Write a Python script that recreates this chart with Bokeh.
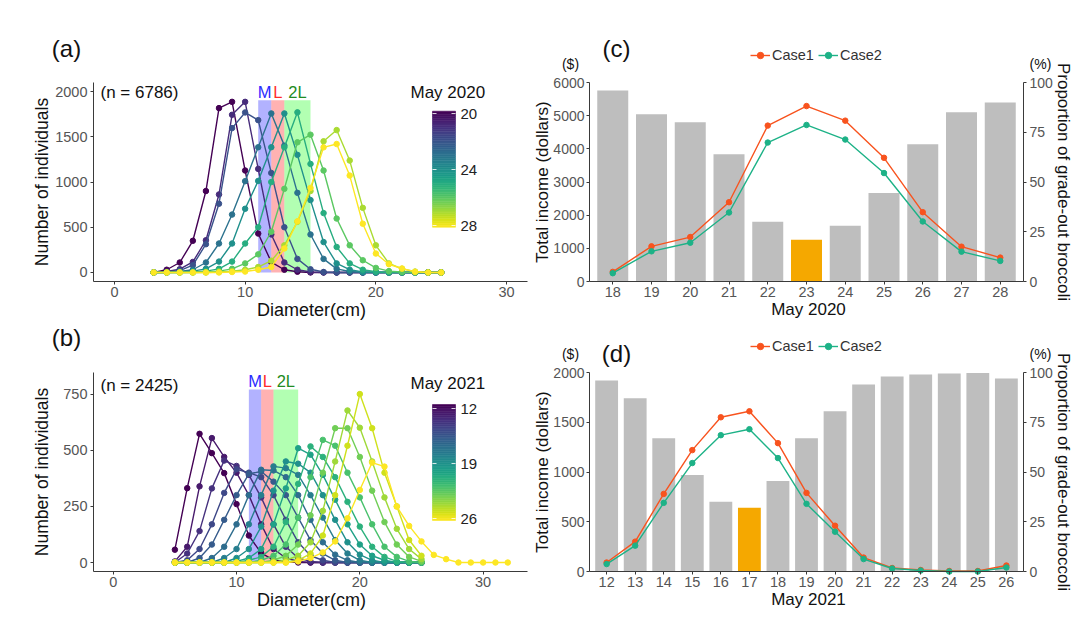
import math
from bokeh.plotting import figure
from bokeh.models import Range1d, LinearAxis, FixedTicker, Label, Legend, LegendItem
from bokeh.embed import file_html
from bokeh.resources import INLINE
from bokeh.palettes import Viridis256

FONT = "Liberation Sans"
W, H = 1080, 635

# ---------------- data: panel (a), May 2020 ----------------
diam_a = list(range(3, 26))
days_a = [20, 21, 22, 23, 24, 25, 26, 27, 28]
cnt_a20 = [0, 30, 110, 350, 900, 1817, 1886, 1127, 430, 115, 30, 8, 0, 0, 0, 0, 0, 0, 0, 0, 0, 0, 0]
cnt_a21 = [0, 10, 36, 116, 356, 862, 1743, 1886, 1145, 420, 110, 30, 5, 0, 0, 0, 0, 0, 0, 0, 0, 0, 0]
cnt_a22 = [0, 5, 20, 80, 312, 760, 1596, 1769, 1684, 1100, 500, 150, 35, 5, 0, 0, 0, 0, 0, 0, 0, 0, 0]
cnt_a23 = [0, 0, 10, 30, 110, 320, 640, 1009, 1384, 1758, 1402, 880, 420, 150, 40, 10, 0, 0, 0, 0, 0, 0, 0]
cnt_a24 = [0, 0, 5, 15, 40, 120, 320, 704, 1012, 1384, 1758, 1300, 800, 336, 100, 30, 5, 0, 0, 0, 0, 0, 0]
cnt_a25 = [0, 0, 0, 5, 15, 40, 120, 320, 500, 1000, 1384, 1770, 1200, 656, 282, 100, 30, 8, 0, 0, 0, 0, 0]
cnt_a26 = [0, 0, 0, 0, 5, 15, 40, 100, 200, 450, 924, 1439, 1523, 1127, 596, 300, 135, 50, 15, 5, 0, 0, 0]
cnt_a27 = [0, 0, 0, 0, 0, 5, 15, 30, 60, 130, 300, 560, 900, 1450, 1574, 1237, 714, 300, 100, 40, 10, 0, 0]
cnt_a28 = [0, 0, 0, 0, 0, 0, 5, 10, 30, 60, 265, 565, 935, 1383, 1420, 1071, 539, 209, 91, 44, 7, 0, 0]
counts_a = [cnt_a20, cnt_a21, cnt_a22, cnt_a23, cnt_a24, cnt_a25, cnt_a26, cnt_a27, cnt_a28]
n_a = 6786
cbar_ticks_a = [20, 24, 28]

# ---------------- data: panel (b), May 2021 ----------------
diam_b = list(range(5, 26))
diam_b_last = list(range(5, 33))
days_b = list(range(12, 27))
cnt_b12 = [57, 331, 573, 487, 398, 260, 120, 42, 12, 3, 0, 0, 0, 0, 0, 0, 0, 0, 0, 0, 0]
cnt_b13 = [5, 70, 339, 554, 470, 400, 300, 170, 60, 20, 5, 0, 0, 0, 0, 0, 0, 0, 0, 0, 0]
cnt_b14 = [0, 40, 140, 330, 454, 430, 390, 290, 170, 70, 20, 5, 0, 0, 0, 0, 0, 0, 0, 0, 0]
cnt_b15 = [0, 10, 60, 170, 310, 415, 400, 380, 300, 190, 90, 30, 10, 0, 0, 0, 0, 0, 0, 0, 0]
cnt_b16 = [0, 0, 20, 80, 190, 300, 395, 405, 360, 300, 200, 100, 40, 10, 0, 0, 0, 0, 0, 0, 0]
cnt_b17 = [0, 0, 0, 20, 70, 170, 300, 413, 410, 380, 300, 190, 90, 35, 10, 0, 0, 0, 0, 0, 0]
cnt_b18 = [0, 0, 0, 0, 20, 60, 170, 300, 428, 420, 390, 300, 200, 100, 40, 10, 0, 0, 0, 0, 0]
cnt_b19 = [0, 0, 0, 0, 0, 20, 60, 160, 320, 450, 440, 400, 300, 190, 90, 35, 10, 0, 0, 0, 0]
cnt_b20 = [0, 0, 0, 0, 0, 5, 20, 60, 170, 330, 509, 480, 390, 280, 170, 80, 30, 10, 0, 0, 0]
cnt_b21 = [0, 0, 0, 0, 0, 0, 10, 25, 70, 180, 350, 517, 470, 380, 270, 160, 70, 25, 5, 0, 0]
cnt_b22 = [0, 0, 0, 0, 0, 0, 0, 10, 30, 80, 200, 380, 546, 520, 400, 290, 170, 70, 25, 5, 0]
cnt_b23 = [0, 0, 0, 0, 0, 0, 0, 0, 10, 30, 80, 210, 400, 598, 598, 470, 320, 180, 80, 25, 5]
cnt_b24 = [0, 0, 0, 0, 0, 0, 0, 0, 0, 10, 30, 90, 230, 450, 677, 600, 450, 290, 150, 60, 15]
cnt_b25 = [0, 0, 0, 0, 0, 0, 0, 0, 0, 0, 10, 40, 120, 300, 520, 750, 598, 400, 250, 100, 30]
cnt_b26 = [0, 0, 0, 0, 0, 0, 0, 0, 0, 0, 5, 20, 45, 94, 197, 323, 445, 427, 249, 163, 94, 34, 15, 0, 0, 0, 0, 0]
counts_b = [cnt_b12, cnt_b13, cnt_b14, cnt_b15, cnt_b16, cnt_b17, cnt_b18, cnt_b19,
            cnt_b20, cnt_b21, cnt_b22, cnt_b23, cnt_b24, cnt_b25, cnt_b26]
n_b = 2425
cbar_ticks_b = [12, 19, 26]

# size classes
class_names = ["M", "L", "2L"]
class_lo = [11, 12, 13]
class_hi = [12, 13, 15]
band_top_a = 1905
band_top_b = 770
label_y_a = 2000
label_y_b = 806

# ---------------- data: panel (c), May 2020 ----------------
days_c = [18, 19, 20, 21, 22, 23, 24, 25, 26, 27, 28]
grade_c = [96, 84, 80, 64, 30, 21, 28, 44.5, 69, 85, 90]
case1_c = [290, 1060, 1340, 2390, 4700, 5290, 4850, 3730, 2090, 1050, 720]
case2_c = [250, 910, 1170, 2080, 4190, 4720, 4280, 3270, 1810, 900, 620]
best_c = 23

# ---------------- data: panel (d), May 2021 ----------------
days_d = [12, 13, 14, 15, 16, 17, 18, 19, 20, 21, 22, 23, 24, 25, 26]
grade_d = [96, 87, 67, 48.5, 35, 32, 45.5, 67, 80.5, 94, 98, 99, 99.5, 99.7, 97]
case1_d = [90, 300, 780, 1220, 1550, 1610, 1290, 790, 460, 140, 35, 15, 5, 5, 60]
case2_d = [75, 260, 690, 1090, 1370, 1430, 1140, 680, 400, 125, 30, 10, 0, 0, 40]
best_d = 17

# ---------------- styling ----------------
AX = "#3a3a3a"
TICKLAB = "#555555"
TXT = "#111111"
C1 = "#F8531E"
C2 = "#1DB287"
GRAY = "#BEBEBE"
ORANGE = "#F5A800"
BAND_FILL = ["#0000ff", "#ff0000", "#00ff00"]
BAND_TEXT = ["#2b2bff", "#ff2b2b", "#228B22"]

p = figure(width=W, height=H, x_range=Range1d(0, W), y_range=Range1d(H, 0),
           output_backend="svg", toolbar_location=None,
           x_axis_location=None, y_axis_location=None, min_border=0)
p.min_border_left = p.min_border_right = p.min_border_top = p.min_border_bottom = 0
p.outline_line_color = None
p.background_fill_color = "white"
p.border_fill_color = "white"
for g in p.grid:
    g.visible = False

xr_extra, yr_extra = {}, {}


def panel_ranges(name, frame, xr, yr):
    L, R, T, B = frame
    kx = (xr[1] - xr[0]) / (R - L)
    ky = (yr[1] - yr[0]) / (B - T)
    xr_extra[name + "x"] = Range1d(xr[0] - L * kx, xr[0] + (W - L) * kx)
    yr_extra[name + "y"] = Range1d(yr[0] + (B - H) * ky, yr[0] + B * ky)


def style_axis(ax, lab_standoff, lab_size):
    ax.axis_line_color = AX
    ax.axis_line_width = 1
    ax.major_tick_line_color = AX
    ax.major_tick_out = 3
    ax.major_tick_in = 0
    ax.minor_tick_line_color = None
    ax.major_label_text_font = FONT
    ax.major_label_text_font_size = lab_size
    ax.major_label_text_color = TICKLAB
    ax.major_label_standoff = lab_standoff


def add_axis(side, name, yname, loc, bounds, ticks, standoff=2, lab_size="14.5px"):
    ax = LinearAxis(x_range_name=name + "x", y_range_name=yname, fixed_location=loc,
                    bounds=bounds, ticker=FixedTicker(ticks=ticks))
    style_axis(ax, standoff, lab_size)
    p.add_layout(ax, side)


def text(x, y, s, size, color=TXT, align="center", angle=0.0, xname="default", yname="default"):
    p.add_layout(Label(x=x, y=y, text=s, text_font=FONT, text_font_size=size, text_color=color,
                       text_align=align, text_baseline="middle", angle=angle,
                       x_range_name=xname, y_range_name=yname))


def vcolor(v, lo, hi):
    return Viridis256[int(round((v - lo) / (hi - lo) * 255))]


def dist_panel(name, frame, xr, yr, yticks, diam, diam_last, days, counts, n_total,
               band_top, label_y, cbar_ticks, cbar_title, cbar_geom, tag, tag_py, n_py):
    panel_ranges(name, frame, xr, yr)
    L, R, T, B = frame
    xn, yn = name + "x", name + "y"
    add_axis("below", name, yn, yr[0], xr, [0, 10, 20, 30], 2)
    add_axis("left", name, yn, xr[0], yr, yticks, 3)
    p.quad(left=class_lo, right=class_hi, bottom=0, top=band_top,
           fill_color=BAND_FILL, fill_alpha=0.3, line_color=None,
           x_range_name=xn, y_range_name=yn)
    lo, hi = days[0], days[-1]
    for i, (d, vals) in enumerate(zip(days, counts)):
        xs = diam_last if i == len(days) - 1 else diam
        col = vcolor(d, lo, hi)
        p.line(xs, vals, line_color=col, line_width=1.4, x_range_name=xn, y_range_name=yn)
        p.scatter(xs, vals, size=5.5, fill_color=col, line_color=col, x_range_name=xn, y_range_name=yn)
    for nm, a, b, tc in zip(class_names, class_lo, class_hi, BAND_TEXT):
        text((a + b) / 2, label_y, nm, "16.5px", color=tc, xname=xn, yname=yn)
    text(100, n_py, "(n = %d)" % n_total, "17px", align="left")
    # colour bar (legend key)
    px0, px1, pyt, pyb, ly0, ly1, title_py = cbar_geom
    nseg = 64
    tops, bots, cols = [], [], []
    for k in range(nseg):
        tops.append(pyt + (pyb - pyt) * k / nseg)
        bots.append(pyt + (pyb - pyt) * (k + 1) / nseg)
        cols.append(Viridis256[int((k + 0.5) / nseg * 255)])
    p.quad(left=px0, right=px1, top=tops, bottom=bots, fill_color=cols, line_color=cols, line_width=0.6)
    for v in cbar_ticks:
        py = ly0 + (v - cbar_ticks[0]) / (cbar_ticks[-1] - cbar_ticks[0]) * (ly1 - ly0)
        text(px1 + 5, py, str(v), "15px", color="#222222", align="left")
        p.segment(x0=[px0, px1 - 4], x1=[px0 + 4, px1], y0=[py, py], y1=[py, py],
                  line_color="white", line_width=1, line_alpha=0.8)
    text(410, title_py, cbar_title, "17px", align="left")
    # titles
    text(66, tag_py, tag, "24px")
    text(41.5, (T + B) / 2, "Number of individuals", "17.5px", angle=math.pi / 2)
    text((L + R) / 2 + 1, B + 28, "Diameter(cm)", "18px")


def income_panel(name, frame, xr, ymax, yticks, days, grade, case1, case2, best,
                 xtitle, tag, tag_py, unit_py, leg_py):
    panel_ranges(name, frame, xr, (0, ymax))
    panel_ranges(name + "p", frame, xr, (0, 100))
    L, R, T, B = frame
    xn, yn, pn = name + "x", name + "y", name + "py"
    cols = [ORANGE if d == best else GRAY for d in days]
    p.vbar(x=days, top=grade, width=0.8, bottom=0, fill_color=cols, line_color=None,
           x_range_name=xn, y_range_name=pn)
    l1 = p.line(days, case1, line_color=C1, line_width=1.4, x_range_name=xn, y_range_name=yn)
    s1 = p.scatter(days, case1, size=5.5, fill_color=C1, line_color=C1, x_range_name=xn, y_range_name=yn)
    l2 = p.line(days, case2, line_color=C2, line_width=1.4, x_range_name=xn, y_range_name=yn)
    s2 = p.scatter(days, case2, size=5.5, fill_color=C2, line_color=C2, x_range_name=xn, y_range_name=yn)
    add_axis("below", name, yn, 0, xr, days, 2)
    add_axis("left", name, yn, xr[0], (0, ymax), yticks, 2, "14px")
    add_axis("right", name, pn, xr[1], (0, 100), [0, 25, 50, 75, 100], 3, "14px")
    leg = Legend(items=[LegendItem(label="Case1", renderers=[l1, s1]),
                        LegendItem(label="Case2", renderers=[l2, s2])],
                 orientation="horizontal", location=(750, H - (leg_py + 8)),
                 glyph_width=20, glyph_height=16, label_height=16,
                 label_standoff=2, spacing=4, padding=0, margin=0,
                 border_line_color=None, background_fill_alpha=0,
                 label_text_font=FONT, label_text_font_size="14.5px", label_text_color="#333333")
    p.add_layout(leg)
    text(570, unit_py, "($)", "14px")
    text(1040, unit_py, "(%)", "14px")
    text(616, tag_py, tag, "24px")
    text(542, (T + B) / 2, "Total income (dollars)", "17px", angle=math.pi / 2)
    text(1063, (T + B) / 2, "Proportion of grade-out broccoli", "17px", angle=-math.pi / 2)
    text((L + R) / 2 + 2, B + 28, xtitle, "17px")


# frames in page pixels: left, right, top, bottom
FA = (93, 527, 82, 281)
FB = (93, 527, 372, 571)
FC = (589, 1023, 82, 281)
FD = (589, 1023, 372, 571)

dist_panel("a", FA, (-1.6, 31.6), (-100, 2100), [0, 500, 1000, 1500, 2000],
           diam_a, diam_a, days_a, counts_a, n_a, band_top_a, label_y_a, cbar_ticks_a, "May 2020",
           (432, 455, 110.7, 226.7, 113, 225, 92), "(a)", 48, 91.7)
dist_panel("b", FB, (-1.6, 33.6), (-40, 846), [0, 250, 500, 750],
           diam_b, diam_b_last, days_b, counts_b, n_b, band_top_b, label_y_b, cbar_ticks_b, "May 2021",
           (432, 455, 404, 520, 408, 518, 383), "(b)", 337, 385)
income_panel("c", FC, (17.4, 28.6), 6000, [0, 1000, 2000, 3000, 4000, 5000, 6000],
             days_c, grade_c, case1_c, case2_c, best_c, "May 2020", "(c)", 48, 63, 55)
income_panel("d", FD, (11.4, 26.6), 2000, [0, 500, 1000, 1500, 2000],
             days_d, grade_d, case1_d, case2_d, best_d, "May 2021", "(d)", 353, 353, 346)

p.extra_x_ranges = xr_extra
p.extra_y_ranges = yr_extra

open("out.html", "w").write(file_html(p, INLINE))
